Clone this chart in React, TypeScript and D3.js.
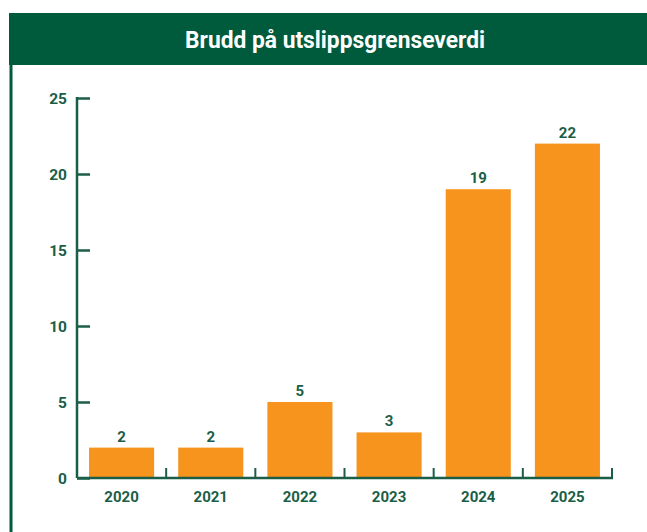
import React, { useEffect, useRef } from 'react';
import * as d3 from 'd3';

const years = ['2020', '2021', '2022', '2023', '2024', '2025'];
const breaches = [2, 2, 5, 3, 19, 22];
const yTicks = [0, 5, 10, 15, 20, 25];
const title = 'Brudd på utslippsgrenseverdi';

const App = () => {
  const svgRef = useRef<SVGSVGElement>(null);
  const width = 647;
  const height = 532;
  const margin = { top: 98, right: 35, bottom: 54, left: 77 };
  const green = '#005a3c';
  const textGreen = '#1b5e47';
  const orange = '#f7941e';
  const font = 'Roboto, "Noto Sans", sans-serif';

  useEffect(() => {
    const svg = d3.select(svgRef.current);
    svg.selectAll('*').remove();

    // header bar + left frame line
    svg.append('rect')
      .attr('x', 9)
      .attr('y', 13)
      .attr('width', width - 9)
      .attr('height', 52)
      .attr('fill', green);

    svg.append('line')
      .attr('x1', 11)
      .attr('x2', 11)
      .attr('y1', 13)
      .attr('y2', height)
      .attr('stroke', green)
      .attr('stroke-width', 3);

    svg.append('text')
      .attr('x', 335)
      .attr('y', 48)
      .attr('text-anchor', 'middle')
      .attr('fill', '#fff')
      .attr('font-family', font)
      .attr('font-weight', 700)
      .attr('font-size', 23)
      .attr('textLength', 300)
      .attr('lengthAdjust', 'spacingAndGlyphs')
      .text(title);

    const xScale = d3
      .scaleBand()
      .domain(years)
      .range([margin.left, width - margin.right])
      .padding(0);

    const yScale = d3
      .scaleLinear()
      .domain([0, 25])
      .range([height - margin.bottom, margin.top]);

    const y0 = yScale(0);
    const barInset = xScale.bandwidth() * 0.135;

    svg.append('g')
      .selectAll('rect')
      .data(breaches)
      .enter()
      .append('rect')
      .attr('x', (d, i) => (xScale(years[i]) as number) + barInset)
      .attr('y', (d) => yScale(d))
      .attr('width', xScale.bandwidth() - barInset * 2)
      .attr('height', (d) => y0 - yScale(d))
      .attr('fill', orange);

    svg.append('g')
      .selectAll('text')
      .data(breaches)
      .enter()
      .append('text')
      .attr('x', (d, i) => (xScale(years[i]) as number) + xScale.bandwidth() / 2)
      .attr('y', (d) => yScale(d) - 6)
      .attr('text-anchor', 'middle')
      .attr('fill', textGreen)
      .attr('font-family', font)
      .attr('font-weight', 700)
      .attr('font-size', 15)
      .text((d) => d);

    // y axis, ticks pointing into the plot
    const yAxis = d3.axisRight(yScale).tickValues(yTicks).tickSize(13).tickFormat(() => '');
    const yG = svg.append('g')
      .attr('transform', `translate(${margin.left}, 0)`)
      .call(yAxis);
    yG.select('.domain').remove();
    yG.selectAll('line').attr('stroke', textGreen).attr('stroke-width', 2.5);
    yG.append('line')
      .attr('x1', 0)
      .attr('x2', 0)
      .attr('y1', yScale(25) - 1)
      .attr('y2', y0)
      .attr('stroke', textGreen)
      .attr('stroke-width', 2.5);

    svg.append('g')
      .selectAll('text')
      .data(yTicks)
      .enter()
      .append('text')
      .attr('x', margin.left - 10)
      .attr('y', (d) => yScale(d) + 6)
      .attr('text-anchor', 'end')
      .attr('fill', textGreen)
      .attr('font-family', font)
      .attr('font-weight', 700)
      .attr('font-size', 15.5)
      .text((d) => d);

    // x axis: baseline with upward ticks at band edges
    const edges = years.map((y) => xScale(y) as number).slice(1).concat([width - margin.right]);
    const xG = svg.append('g');
    xG.append('line')
      .attr('x1', margin.left)
      .attr('x2', width - margin.right + 1)
      .attr('y1', y0)
      .attr('y2', y0)
      .attr('stroke', textGreen)
      .attr('stroke-width', 2.5);
    xG.selectAll('.tick')
      .data(edges)
      .enter()
      .append('line')
      .attr('class', 'tick')
      .attr('x1', (d) => d)
      .attr('x2', (d) => d)
      .attr('y1', y0)
      .attr('y2', y0 - 10)
      .attr('stroke', textGreen)
      .attr('stroke-width', 2);

    xG.selectAll('.label')
      .data(years)
      .enter()
      .append('text')
      .attr('class', 'label')
      .attr('x', (d) => (xScale(d) as number) + xScale.bandwidth() / 2)
      .attr('y', y0 + 24)
      .attr('text-anchor', 'middle')
      .attr('fill', textGreen)
      .attr('font-family', font)
      .attr('font-weight', 700)
      .attr('font-size', 15)
      .text((d) => d);
  }, []);

  return (
    <svg
      ref={svgRef}
      width={width}
      height={height}
      style={{ position: 'absolute', left: 0, top: 0, background: '#fff' }}
    ></svg>
  );
};

export default App;
